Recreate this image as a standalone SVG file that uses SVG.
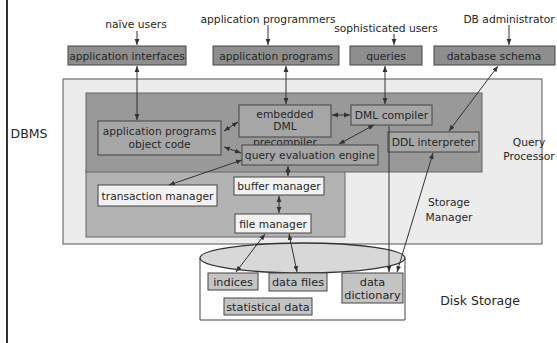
<svg xmlns="http://www.w3.org/2000/svg" width="557" height="343" viewBox="0 0 557 343">
  <defs>
    <marker id="arrow" viewBox="0 0 6 6" refX="6" refY="3" markerWidth="6" markerHeight="6" markerUnits="userSpaceOnUse" orient="auto-start-reverse">
      <path d="M0,0.6 L6,3 L0,5.4 z" fill="#333"/>
    </marker>
  </defs>
  <style>
    text { font-family: "DejaVu Sans", Verdana, sans-serif; fill: #262626; text-anchor: middle; }
    .lbl { font-size: 10.7px; }
    .big { font-size: 12.5px; }
    .disk { font-size: 11.3px; }
    .top { fill: #8e8e8e; stroke: #444; stroke-width: 1; }
    .qp { fill: #a6a6a6; stroke: #444; stroke-width: 1; }
    .sm { fill: #f2f2f2; stroke: #444; stroke-width: 1; }
    .dk { fill: #c4c4c4; stroke: #444; stroke-width: 1; }
    .conn path { fill: none; stroke: #333; stroke-width: 1; }
    .both { marker-start: url(#arrow); marker-end: url(#arrow); }
    .end { marker-end: url(#arrow); }
  </style>

  <rect width="557" height="343" fill="#fff"/>

  <!-- DBMS boundary line and label -->
  <line x1="7" y1="0" x2="7" y2="343" stroke="#333" stroke-width="2"/>
  <text class="big" x="29" y="138">DBMS</text>

  <!-- users -->
  <g id="users">
    <text class="lbl" x="136" y="28">naïve users</text>
    <text class="lbl" x="268" y="22.5">application programmers</text>
    <text class="lbl" x="386" y="31.5">sophisticated users</text>
    <text class="lbl" x="509" y="22.5">DB administrator</text>
  </g>

  <!-- top row of interfaces -->
  <g id="application-interfaces">
    <rect class="top" x="68" y="46" width="118" height="19"/>
    <text class="lbl" x="127" y="59.5">application interfaces</text>
  </g>
  <g id="application-programs">
    <rect class="top" x="213" y="46" width="126" height="19"/>
    <text class="lbl" x="276" y="59.5">application programs</text>
  </g>
  <g id="queries">
    <rect class="top" x="350" y="46" width="72" height="19"/>
    <text class="lbl" x="386" y="59.5">queries</text>
  </g>
  <g id="database-schema">
    <rect class="top" x="434" y="46" width="121" height="19"/>
    <text class="lbl" x="494" y="59.5">database schema</text>
  </g>

  <!-- system regions -->
  <g id="dbms-area">
    <rect x="63" y="79" width="479" height="165" fill="#ececec" stroke="#555" stroke-width="1"/>
  </g>
  <g id="storage-manager-area">
    <rect x="86" y="170" width="259" height="67" fill="#b3b3b3" stroke="#666" stroke-width="1"/>
    <text class="lbl" x="449" y="206">Storage</text>
    <text class="lbl" x="449" y="221">Manager</text>
  </g>
  <g id="query-processor-area">
    <rect x="86" y="93" width="396" height="79" fill="#999" stroke="#666" stroke-width="1"/>
    <text class="lbl" x="529" y="146">Query</text>
    <text class="lbl" x="529" y="160">Processor</text>
  </g>

  <!-- query processor components -->
  <g id="object-code">
    <rect class="qp" x="98" y="121" width="123" height="34"/>
    <text class="lbl" x="159.5" y="134.5">application programs</text>
    <text class="lbl" x="159.5" y="148">object code</text>
  </g>
  <g id="dml-precompiler">
    <rect class="qp" x="239" y="105" width="92" height="32"/>
    <text class="lbl" x="285" y="118">embedded</text>
    <text class="lbl" x="285" y="130">DML</text>
    <text class="lbl" x="285" y="145.5">precompiler</text>
  </g>
  <g id="dml-compiler">
    <rect class="qp" x="351" y="105" width="81" height="20" fill="#b0b0b0"/>
    <text class="lbl" x="391.5" y="119">DML compiler</text>
  </g>
  <g id="ddl-interpreter">
    <rect class="qp" x="388" y="132" width="91" height="20"/>
    <text class="lbl" x="433.5" y="146">DDL interpreter</text>
  </g>
  <g id="query-evaluation-engine">
    <rect class="qp" x="242" y="145" width="136" height="20" fill="#b0b0b0"/>
    <text class="lbl" x="310" y="159">query evaluation engine</text>
  </g>

  <!-- storage manager components -->
  <g id="transaction-manager">
    <rect class="sm" x="98" y="185" width="119" height="21"/>
    <text class="lbl" x="157.5" y="199.5">transaction manager</text>
  </g>
  <g id="buffer-manager">
    <rect class="sm" x="234" y="177" width="90" height="18"/>
    <text class="lbl" x="279" y="190">buffer manager</text>
  </g>
  <g id="file-manager">
    <rect class="sm" x="235" y="214" width="76" height="19"/>
    <text class="lbl" x="273" y="227.5">file manager</text>
  </g>

  <!-- disk storage cylinder -->
  <g id="disk-storage">
    <path d="M200,258 L200,320 L405,320 L405,258" fill="#fff" stroke="#444" stroke-width="1"/>
    <ellipse cx="302.5" cy="258" rx="102.5" ry="15" fill="#d8d8d8" stroke="#333" stroke-width="1.3"/>
    <text class="big" x="480" y="305">Disk Storage</text>
  </g>
  <g id="indices">
    <rect class="dk" x="208" y="273" width="50" height="17"/>
    <text class="disk" x="233" y="285.5">indices</text>
  </g>
  <g id="data-files">
    <rect class="dk" x="269" y="273" width="58" height="18"/>
    <text class="disk" x="298" y="286">data files</text>
  </g>
  <g id="data-dictionary">
    <rect class="dk" x="342" y="273" width="61" height="30"/>
    <text class="disk" x="372.5" y="286">data</text>
    <text class="disk" x="372.5" y="298.5">dictionary</text>
  </g>
  <g id="statistical-data">
    <rect class="dk" x="224" y="298" width="88" height="17"/>
    <text class="disk" x="268" y="310.5">statistical data</text>
  </g>

  <!-- connectors -->
  <g id="connectors" class="conn">
    <path class="end" d="M137,31 L137,45"/>
    <path class="end" d="M268,25 L268,45"/>
    <path class="end" d="M394,34 L394,45"/>
    <path class="end" d="M509,25 L509,45"/>
    <path class="both" d="M137,66 L137,120"/>
    <path class="both" d="M286,66 L286,104"/>
    <path class="both" d="M385,66 L385,104"/>
    <path class="both" d="M498,66 L449,131"/>
    <path class="both" d="M224,131 L238,122"/>
    <path class="both" d="M224,147 L241,153"/>
    <path class="both" d="M332,115 L350,115"/>
    <path class="both" d="M374,125 L339,144"/>
    <path class="both" d="M169,185 L242,160"/>
    <path class="both" d="M288,166 L288,176"/>
    <path class="both" d="M279,196 L279,213"/>
    <path class="both" d="M265,234 L236,272"/>
    <path class="both" d="M289,234 L297,272"/>
    <path class="end" d="M389,126 L389,272"/>
    <path class="both" d="M433,153 L397,272"/>
  </g>
</svg>
